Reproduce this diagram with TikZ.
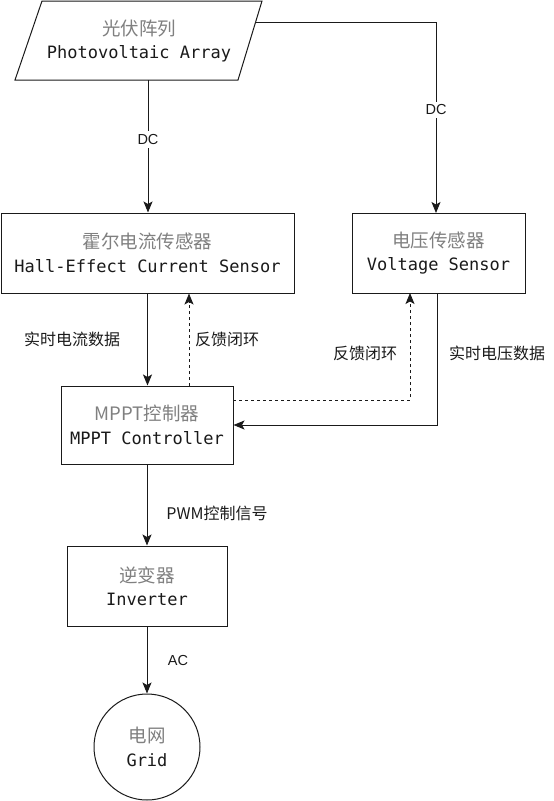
\documentclass[tikz,border=0pt]{standalone}
\usepackage{fontspec}
\setmainfont{Liberation Sans}
\setmonofont{DejaVu Sans Mono}
\newfontfamily\cjk{Noto Sans CJK SC}
\usetikzlibrary{arrows.meta}
\definecolor{zhgray}{HTML}{808080}
\definecolor{ink}{HTML}{1A1A1A}
\newcommand\zhtxt[1]{{\cjk\fontsize{18.5}{20}\selectfont\color{zhgray}#1}}
\newcommand\entxt[1]{{\ttfamily\fontsize{17}{20}\selectfont #1}}
\begin{document}
\begin{tikzpicture}[x=1pt,y=-1pt,
  line width=1pt, draw=ink,
  box/.style={draw=ink, line width=1pt, fill=white, align=center, inner sep=0pt, text=ink},
  arr/.style={draw=ink, line width=1pt, -{Stealth[length=11pt,width=9pt,inset=2.5pt]}},
  lbl/.style={font=\cjk\fontsize{16}{18}\selectfont, text=ink, inner sep=2pt},
  dclbl/.style={font=\fontsize{14.5}{16}\selectfont, text=ink, fill=white, inner sep=3pt}]
\useasboundingbox (0,0) rectangle (554,801);
% photovoltaic array (parallelogram)
\draw[ink, line width=1pt, fill=white] (42,1) -- (262,1) -- (238,80) -- (15,80) -- cycle;
\node[align=center, inner sep=0pt, text=ink] (pv) at (139,41) {\zhtxt{光伏阵列}\\[8pt]\entxt{Photovoltaic Array}};
\coordinate (pvb) at (148,80);
\coordinate (pvr) at (256,22);
% boxes
\node[box, minimum width=293pt, minimum height=80pt] (hall) at (147.5,253) {\zhtxt{霍尔电流传感器}\\[8pt]\entxt{Hall-Effect Current Sensor}};
\node[box, minimum width=173pt, minimum height=80pt] (volt) at (438.5,253) {\zhtxt{电压传感器}\\[8pt]\entxt{Voltage Sensor}};
\node[box, minimum width=172pt, minimum height=78pt] (mppt) at (147,425) {\zhtxt{MPPT控制器}\\[8pt]\entxt{MPPT Controller}};
\node[box, minimum width=160pt, minimum height=80pt] (inv) at (147,586) {\zhtxt{逆变器}\\[8pt]\entxt{Inverter}};
\node[box, circle, minimum size=106pt] (grid) at (147,747) {\zhtxt{电网}\\[8pt]\entxt{Grid}};
% connectors
\draw[arr] (pvb) -- (pvb |- hall.north) node[dclbl, pos=0.45] (dc1) {DC};
\coordinate (vtop) at (436,213);
\draw[arr] (pvr) -| (vtop) node[dclbl, pos=0.73] (dc2) {DC};
\draw[arr] (hall.south) -- (hall.south |- mppt.north);
\node[lbl] (l1) at (72,339) {实时电流数据};
\coordinate (fb1) at (189,386);
\draw[arr, dashed] (fb1) -- (fb1 |- hall.south);
\node[lbl] (l2) at (227,339) {反馈闭环};
\coordinate (fb2) at (233,400);
\coordinate (vbot) at (410,293);
\draw[arr, dashed] (fb2) -| (vbot);
\node[lbl] (l3) at (365,353) {反馈闭环};
\coordinate (vout) at (437,293);
\draw[arr] (vout) |- (mppt.east);
\node[lbl] (l4) at (497,353) {实时电压数据};
\draw[arr] (mppt.south) -- (inv.north);
\node[lbl] (l5) at (217,513) {PWM控制信号};
\draw[arr] (inv.south) -- (grid.north);
\node[dclbl, fill=none] (l6) at (178,660) {AC};
\end{tikzpicture}
\end{document}
